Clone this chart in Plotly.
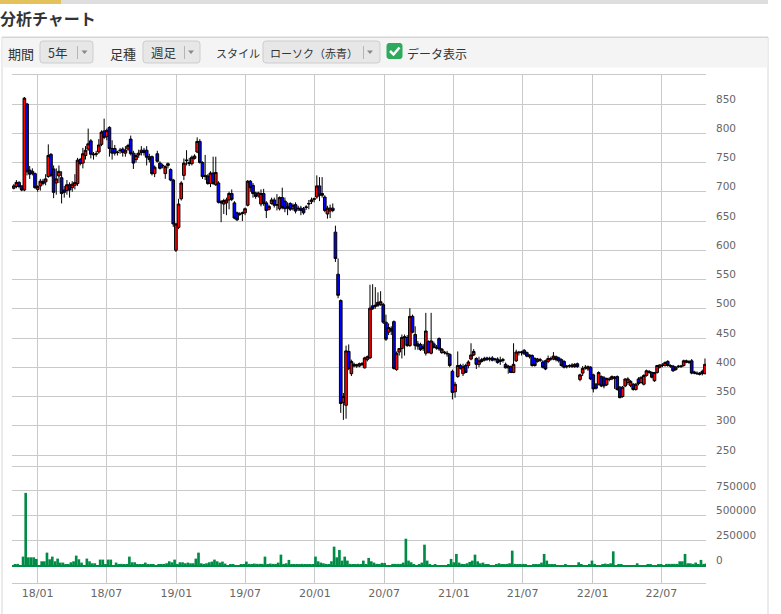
import plotly.graph_objects as go
import pandas as pd

# ---------------- data ----------------
dates = pd.date_range('2017-10-30', periods=261, freq='7D')

open_ = [
    706, 709, 716, 710, 703, 850, 737, 731, 731, 704,
    710, 718, 717, 726, 764, 739, 715, 727, 724, 703,
    702, 712, 707, 711, 714, 755, 749, 762, 773, 787,
    763, 764, 768, 781, 804, 794, 810, 774, 774, 768,
    770, 773, 766, 773, 790, 766, 755, 763, 767, 771,
    771, 760, 760, 731, 765, 749, 744, 731, 745, 738,
    720, 600, 639, 688, 728, 753, 750, 748, 757, 768,
    786, 750, 728, 727, 714, 732, 712, 715, 683, 679,
    681, 686, 697, 681, 664, 661, 663, 664, 677, 718,
    711, 698, 693, 679, 697, 681, 670, 680, 686, 677,
    671, 690, 684, 675, 680, 671, 678, 672, 672, 671,
    673, 679, 683, 687, 691, 710, 697, 691, 662, 667,
    672, 631, 559, 514, 340, 335, 427, 389, 405, 402,
    402, 405, 399, 413, 416, 505, 504, 511, 507, 507,
    477, 460, 466, 478, 396, 426, 432, 451, 451, 437,
    487, 456, 440, 439, 436, 424, 444, 424, 440, 434,
    449, 425, 426, 424, 422, 393, 358, 384, 403, 389,
    403, 403, 414, 421, 415, 405, 413, 412, 416, 414,
    416, 413, 414, 410, 413, 405, 399, 401, 391, 411,
    426, 425, 429, 425, 418, 420, 415, 410, 413, 409,
    411, 410, 415, 414, 418, 416, 413, 410, 402, 402,
    404, 401, 406, 379, 390, 400, 397, 400, 387, 371,
    371, 384, 382, 370, 380, 380, 381, 384, 366, 350,
    368, 374, 369, 371, 362, 380, 374, 371, 386, 393,
    391, 377, 391, 400, 404, 403, 410, 403, 402, 396,
    402, 401, 403, 411, 410, 411, 392, 390, 390, 393,
    389,
]

high_ = [
    713, 720, 718, 711, 862, 852, 744, 740, 733, 711,
    722, 722, 730, 781, 766, 745, 740, 745, 735, 710,
    720, 716, 718, 730, 758, 758, 775, 778, 808, 790,
    768, 770, 790, 805, 825, 808, 812, 788, 780, 770,
    775, 776, 778, 782, 796, 770, 766, 772, 778, 775,
    778, 765, 762, 745, 770, 752, 748, 745, 750, 740,
    722, 647, 688, 718, 757, 771, 758, 762, 764, 793,
    790, 752, 763, 730, 735, 760, 760, 718, 686, 688,
    690, 700, 704, 684, 666, 665, 666, 673, 720, 720,
    715, 700, 700, 704, 705, 684, 678, 690, 690, 696,
    692, 707, 690, 682, 682, 680, 682, 676, 676, 674,
    677, 686, 690, 690, 728, 725, 725, 694, 676, 678,
    680, 642, 586, 516, 356, 437, 439, 413, 408, 406,
    408, 409, 418, 420, 541, 542, 537, 528, 530, 510,
    490, 475, 470, 480, 427, 433, 456, 456, 455, 501,
    490, 470, 445, 442, 440, 493, 446, 493, 444, 438,
    451, 433, 428, 428, 424, 396, 375, 427, 406, 406,
    406, 412, 441, 431, 417, 418, 416, 418, 418, 418,
    419, 416, 417, 418, 416, 408, 404, 403, 441, 430,
    428, 428, 431, 427, 422, 422, 417, 416, 416, 412,
    413, 420, 418, 426, 420, 418, 415, 412, 404, 405,
    407, 407, 408, 389, 402, 404, 403, 402, 389, 373,
    393, 386, 385, 382, 383, 386, 385, 386, 368, 368,
    381, 383, 378, 373, 373, 383, 384, 388, 396, 395,
    393, 392, 404, 405, 407, 410, 412, 405, 404, 402,
    404, 404, 413, 413, 412, 414, 394, 393, 392, 396,
    415,
]

low_ = [
    704, 706, 706, 701, 701, 728, 722, 728, 705, 700,
    702, 711, 711, 724, 725, 689, 695, 715, 680, 690,
    695, 690, 700, 704, 710, 745, 740, 755, 770, 757,
    755, 760, 765, 778, 790, 788, 760, 755, 762, 762,
    765, 760, 760, 770, 762, 739, 750, 758, 762, 762,
    745, 750, 728, 725, 750, 738, 740, 722, 740, 718,
    640, 597, 636, 685, 720, 745, 744, 745, 755, 766,
    748, 722, 720, 712, 708, 712, 710, 680, 648, 662,
    660, 670, 684, 653, 650, 659, 650, 660, 675, 700,
    690, 688, 690, 675, 676, 655, 668, 678, 673, 668,
    668, 670, 665, 660, 667, 668, 663, 667, 660, 661,
    669, 670, 679, 682, 688, 684, 690, 665, 654, 655,
    665, 580, 518, 322, 310, 312, 395, 385, 400, 399,
    400, 402, 398, 410, 414, 498, 500, 503, 505, 474,
    445, 455, 455, 396, 394, 420, 415, 420, 435, 435,
    458, 430, 430, 428, 428, 420, 424, 422, 432, 430,
    428, 423, 422, 418, 400, 345, 348, 382, 396, 385,
    390, 398, 412, 419, 397, 400, 408, 410, 411, 410,
    410, 410, 406, 404, 408, 398, 389, 390, 390, 409,
    420, 420, 421, 417, 415, 401, 401, 408, 409, 398,
    395, 407, 411, 412, 410, 408, 401, 398, 398, 399,
    399, 399, 399, 376, 385, 396, 394, 378, 357, 362,
    369, 366, 364, 368, 376, 378, 363, 360, 347, 348,
    366, 370, 366, 360, 360, 369, 372, 369, 384, 389,
    381, 375, 389, 398, 400, 401, 401, 399, 392, 394,
    399, 399, 401, 407, 406, 388, 388, 387, 386, 386,
    388,
]

close_ = [
    710, 716, 709, 703, 860, 734, 730, 735, 707, 709,
    718, 714, 722, 762, 728, 699, 722, 735, 697, 699,
    712, 703, 713, 716, 754, 748, 765, 771, 782, 764,
    764, 765, 780, 802, 793, 805, 774, 766, 766, 767,
    771, 767, 771, 779, 765, 749, 762, 766, 771, 767,
    759, 755, 731, 742, 752, 740, 745, 743, 748, 720,
    645, 645, 679, 715, 749, 754, 748, 759, 761, 786,
    750, 726, 726, 714, 732, 714, 733, 682, 681, 685,
    686, 697, 687, 655, 652, 662, 664, 671, 718, 707,
    697, 692, 698, 697, 680, 668, 675, 686, 677, 678,
    690, 673, 671, 672, 670, 677, 667, 671, 668, 664,
    674, 680, 686, 688, 710, 694, 694, 668, 672, 672,
    668, 586, 523, 338, 350, 428, 398, 410, 402, 404,
    406, 406, 416, 418, 501, 500, 506, 506, 512, 477,
    448, 468, 462, 398, 424, 432, 451, 452, 437, 487,
    460, 437, 436, 430, 432, 462, 425, 445, 434, 433,
    431, 431, 425, 423, 403, 357, 371, 403, 398, 401,
    391, 409, 421, 427, 405, 411, 410, 415, 413, 415,
    412, 414, 408, 412, 412, 399, 402, 391, 405, 426,
    425, 426, 423, 419, 421, 403, 403, 414, 412, 400,
    397, 415, 414, 419, 413, 411, 403, 400, 401, 403,
    401, 405, 401, 387, 398, 399, 401, 380, 363, 364,
    391, 368, 368, 381, 379, 384, 383, 362, 348, 366,
    380, 380, 376, 362, 371, 372, 383, 386, 394, 391,
    383, 391, 403, 404, 403, 408, 403, 402, 394, 400,
    401, 402, 411, 409, 408, 390, 390, 389, 388, 389,
    405,
]

volume_k = [
    7, 17, 5, 90, 730, 83, 83, 83, 67, 3,
    43, 43, 130, 63, 90, 43, 70, 30, 30, 10,
    10, 33, 43, 100, 63, 30, 3, 70, 43, 23,
    23, 5, 60, 60, 15, 60, 60, 5, 30, 7,
    17, 10, 7, 90, 33, 33, 13, 13, 13, 30,
    10, 10, 10, 3, 10, 10, 17, 23, 43, 33,
    60, 7, 33, 33, 23, 30, 23, 23, 70, 130,
    23, 17, 23, 33, 40, 60, 43, 30, 40, 20,
    3, 10, 10, 3, 3, 10, 10, 40, 17, 10,
    20, 17, 17, 17, 90, 10, 20, 17, 17, 30,
    110, 17, 23, 57, 10, 7, 7, 7, 17, 13,
    10, 7, 7, 90, 43, 30, 23, 17, 10, 43,
    190, 83, 157, 50, 90, 50, 17, 10, 10, 17,
    10, 50, 7, 77, 43, 30, 17, 7, 27, 27,
    3, 3, 17, 17, 17, 17, 30, 270, 50, 33,
    10, 3, 10, 30, 210, 50, 10, 3, 10, 3,
    3, 3, 3, 10, 67, 33, 117, 30, 17, 10,
    23, 37, 50, 110, 43, 23, 30, 10, 7, 3,
    3, 10, 23, 10, 13, 17, 23, 150, 17, 10,
    7, 17, 10, 3, 3, 10, 10, 10, 30, 117,
    50, 10, 7, 10, 3, 3, 3, 7, 3, 3,
    3, 3, 33, 10, 3, 3, 10, 50, 17, 3,
    3, 10, 20, 10, 23, 143, 3, 10, 10, 3,
    3, 3, 3, 3, 23, 3, 3, 3, 10, 10,
    3, 3, 10, 10, 3, 17, 17, 17, 17, 17,
    43, 43, 117, 23, 23, 17, 30, 10, 57, 17,
    20,
]
volume = [v * 1000 for v in volume_k]

for arr in (open_, high_, low_, close_, volume):
    assert len(arr) == len(dates), len(arr)

x_tick_dates = ['2018-01-01', '2018-07-01', '2019-01-01', '2019-07-01', '2020-01-01',
                '2020-07-01', '2021-01-01', '2021-07-01', '2022-01-01', '2022-07-01']
x_tick_labels = ['18/01', '18/07', '19/01', '19/07', '20/01',
                 '20/07', '21/01', '21/07', '22/01', '22/07']
price_ticks = [250, 300, 350, 400, 450, 500, 550, 600, 650, 700, 750, 800, 850]
vol_ticks = [0, 250000, 500000, 750000]
vol_tick_labels = ['0', '250000', '500000', '750000']

# ---------------- geometry helpers (pixel -> paper) ----------------
W, H = 781, 614
PL, PR, PT, PB = 12, 706, 75, 583
SPLIT_Y = 466


def px(x):
    return (x - PL) / (PR - PL)


def py(y):
    return (PB - y) / (PB - PT)


split = py(SPLIT_Y)
GRID = '#c9c9c9'
TICKFONT = dict(family='DejaVu Sans', size=10.5, color='#666666')

fig = go.Figure()
fig.add_trace(go.Candlestick(
    x=dates, open=open_, high=high_, low=low_, close=close_,
    increasing=dict(fillcolor='#ff0000', line=dict(color='#000000', width=1)),
    decreasing=dict(fillcolor='#0000ff', line=dict(color='#000000', width=1)),
    whiskerwidth=0, xaxis='x', yaxis='y', hoverinfo='skip', showlegend=False,
))
fig.add_trace(go.Bar(
    x=dates, y=volume, xaxis='x2', yaxis='y2',
    marker=dict(color='#008c45', line=dict(width=0)),
    width=7 * 86400000, offset=0, hoverinfo='skip', showlegend=False,
))

# ---------------- header / toolbar decorations ----------------
shapes = []
annotations = []


def rect(x0, y0, x1, y1, fill, line=None, lw=0):
    shapes.append(dict(type='rect', xref='paper', yref='paper', layer='below',
                       x0=px(x0), x1=px(x1), y0=py(y1), y1=py(y0),
                       fillcolor=fill, line=dict(color=line or fill, width=lw)))


def rrect(x0, y0, x1, y1, r, fill, line, lw=1):
    p = (f"M{px(x0 + r)},{py(y0)} L{px(x1 - r)},{py(y0)} Q{px(x1)},{py(y0)} {px(x1)},{py(y0 + r)} "
         f"L{px(x1)},{py(y1 - r)} Q{px(x1)},{py(y1)} {px(x1 - r)},{py(y1)} "
         f"L{px(x0 + r)},{py(y1)} Q{px(x0)},{py(y1)} {px(x0)},{py(y1 - r)} "
         f"L{px(x0)},{py(y0 + r)} Q{px(x0)},{py(y0)} {px(x0 + r)},{py(y0)} Z")
    shapes.append(dict(type='path', xref='paper', yref='paper', path=p,
                       fillcolor=fill, line=dict(color=line, width=lw)))


def seg(x0, y0, x1, y1, color, lw=1):
    shapes.append(dict(type='line', xref='paper', yref='paper',
                       x0=px(x0), x1=px(x1), y0=py(y0), y1=py(y1),
                       line=dict(color=color, width=lw)))


def tri(cx, cy, color='#888888'):
    p = f"M{px(cx - 3)},{py(cy - 1.5)} L{px(cx + 3)},{py(cy - 1.5)} L{px(cx)},{py(cy + 2)} Z"
    shapes.append(dict(type='path', xref='paper', yref='paper', path=p,
                       fillcolor=color, line=dict(color=color, width=0)))


def text(x, y, s, size, color='#333333', family='Noto Sans CJK JP'):
    annotations.append(dict(xref='paper', yref='paper', x=px(x), y=py(y), text=s,
                            showarrow=False, xanchor='left', yanchor='middle',
                            borderpad=0, font=dict(family=family, size=size, color=color)))


# top bars
rect(0, 0, 61, 4, '#e3c25b')
rect(61, 0, 768, 4, '#dedede')
# title
text(-1, 18.5, '<b>分析チャート</b>', 16, '#333333')
# container + toolbar
rect(2, 37, 768, 640, 'rgba(0,0,0,0)', '#d6d6d6', 1)
rect(2.5, 37.5, 767.5, 67.5, '#f4f4f4')
seg(2, 37.5, 768, 37.5, '#d6d6d6')

text(7, 53, '期間', 13)
rrect(40, 41, 93, 63, 3, '#e7e7e7', '#cdcdcd')
text(47, 52.5, '5年', 12.5)
seg(77.5, 46, 77.5, 59, '#b5b5b5')
tri(84.5, 52)

text(109, 53, '足種', 13)
rrect(143, 41, 200, 63, 3, '#e7e7e7', '#cdcdcd')
text(150, 52.5, '週足', 12.5)
seg(184.5, 46, 184.5, 59, '#b5b5b5')
tri(191, 52)

text(215, 53, 'スタイル', 11)
rrect(263, 41, 380, 63, 3, '#e7e7e7', '#cdcdcd')
text(269, 52.5, 'ローソク（赤青）', 11)
seg(363.5, 46, 363.5, 59, '#b5b5b5')
tri(370, 52)

rrect(387, 43.5, 402, 58.5, 2, '#2eaa5c', '#2eaa5c')
shapes.append(dict(type='path', xref='paper', yref='paper',
                   path=f"M{px(390)},{py(51)} L{px(393.5)},{py(54.5)} L{px(399.5)},{py(47.5)}",
                   line=dict(color='white', width=2.5)))
text(406, 53, 'データ表示', 12)

common_x = dict(type='date', range=['2017-10-25 10:00', '2022-10-26 17:00'],
                showgrid=True, gridcolor=GRID, gridwidth=1, zeroline=False,
                tickvals=x_tick_dates, ticktext=x_tick_labels, ticks='')

fig.update_layout(
    width=W, height=H,
    margin=dict(l=PL, r=W - PR, t=PT, b=H - PB),
    paper_bgcolor='white', plot_bgcolor='white',
    showlegend=False, hovermode=False, boxgap=0, boxgroupgap=0,
    xaxis=dict(**common_x, anchor='y', domain=[0, 1], showticklabels=False,
               showline=True, mirror=True, linecolor=GRID, linewidth=1,
               rangeslider=dict(visible=False)),
    xaxis2=dict(**common_x, anchor='y2', matches='x', showticklabels=True,
                showline=True, linecolor=GRID, linewidth=1,
                tickfont=dict(family='DejaVu Sans', size=11, color='#666666')),
    yaxis=dict(domain=[split, 1], range=[231.2, 899.6], side='right',
               tickvals=price_ticks, showgrid=True, gridcolor=GRID, zeroline=False,
               showline=False, ticks='', tickfont=TICKFONT,
               ticklabelshift=-5, ticklabelstandoff=9),
    yaxis2=dict(domain=[0, split], range=[-175000, 1000000], side='right',
                tickvals=vol_ticks, ticktext=vol_tick_labels, showgrid=True,
                gridcolor=GRID, zeroline=True, zerolinecolor='#008c45', zerolinewidth=2,
                showline=False, ticks='', tickfont=TICKFONT,
                ticklabelshift=-5, ticklabelstandoff=9),
    shapes=shapes, annotations=annotations,
)

fig.write_html('out.html', config={'displayModeBar': False},
               post_script="document.body.style.margin='0px';")
